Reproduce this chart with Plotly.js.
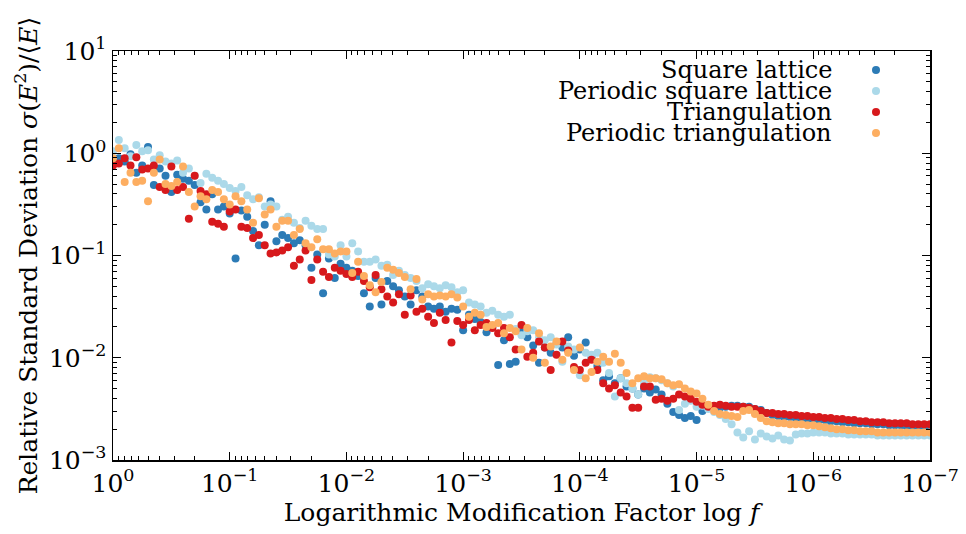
<!DOCTYPE html>
<html>
<head>
<meta charset="utf-8">
<script src="https://cdn.plot.ly/plotly-3.0.1.min.js"></script>
<style>html,body{margin:0;padding:0;background:#fff;}#chart{width:966px;height:534px;}</style>
</head>
<body>
<div id="chart"></div>
<script>
// log10 of the modification factor log f (x values)
const log10F = [
 0,-0.05,-0.1,-0.15,-0.2,-0.25,-0.3,-0.35,-0.4,-0.45,
 -0.5,-0.55,-0.6,-0.65,-0.7,-0.75,-0.8,-0.85,-0.9,-0.95,
 -1,-1.05,-1.1,-1.15,-1.2,-1.25,-1.3,-1.35,-1.4,-1.45,
 -1.5,-1.55,-1.6,-1.65,-1.7,-1.75,-1.8,-1.85,-1.9,-1.95,
 -2,-2.05,-2.1,-2.15,-2.2,-2.25,-2.3,-2.35,-2.4,-2.45,
 -2.5,-2.55,-2.6,-2.65,-2.7,-2.75,-2.8,-2.85,-2.9,-2.95,
 -3,-3.05,-3.1,-3.15,-3.2,-3.25,-3.3,-3.35,-3.4,-3.45,
 -3.5,-3.55,-3.6,-3.65,-3.7,-3.75,-3.8,-3.85,-3.9,-3.95,
 -4,-4.05,-4.1,-4.15,-4.2,-4.25,-4.3,-4.35,-4.4,-4.45,
 -4.5,-4.55,-4.6,-4.65,-4.7,-4.75,-4.8,-4.85,-4.9,-4.95,
 -5,-5.05,-5.1,-5.15,-5.2,-5.25,-5.3,-5.35,-5.4,-5.45,
 -5.5,-5.55,-5.6,-5.65,-5.7,-5.75,-5.8,-5.85,-5.9,-5.95,
 -6,-6.05,-6.1,-6.15,-6.2,-6.25,-6.3,-6.35,-6.4,-6.45,
 -6.5,-6.55,-6.6,-6.65,-6.7,-6.75,-6.8,-6.85,-6.9,-6.95,
 -7
];

// log10 of the relative standard deviation, one array per series
const log10SquareLattice = [
 -0.10,-0.05,-0.08,-0.01,-0.19,-0.12,0.06,-0.31,-0.15,-0.22,
 -0.38,-0.21,-0.25,-0.27,-0.31,-0.48,-0.55,-0.40,-0.55,-0.52,
 -0.59,-1.03,-0.56,-0.62,-0.76,-0.90,-0.70,-0.47,-0.86,-0.80,
 -0.83,-0.88,-0.85,-0.90,-1.12,-0.99,-1.37,-1.03,-1.22,-1.08,
 -1.12,-1.15,-1.20,-1.37,-1.50,-1.22,-1.48,-1.25,-1.30,-1.34,
 -1.40,-1.48,-1.34,-1.40,-1.50,-1.52,-1.50,-1.55,-1.52,-1.53,
 -1.73,-1.58,-1.62,-1.65,-1.75,-1.70,-2.07,-1.83,-2.06,-2.04,
 -1.75,-1.80,-1.88,-2.05,-1.90,-1.95,-1.86,-1.90,-1.80,-1.98,
 -1.92,-1.85,-2.00,-2.08,-2.22,-2.18,-2.25,-2.20,-2.28,-2.30,
 -2.36,-2.30,-2.34,-2.31,-2.36,-2.45,-2.53,-2.56,-2.59,-2.57,
 -2.61,-2.52,-2.48,-2.49,-2.49,-2.48,-2.47,-2.47,-2.48,-2.48,
 -2.50,-2.51,-2.54,-2.56,-2.57,-2.58,-2.58,-2.59,-2.59,-2.60,
 -2.60,-2.61,-2.61,-2.62,-2.62,-2.63,-2.63,-2.64,-2.64,-2.64,
 -2.65,-2.65,-2.65,-2.66,-2.66,-2.66,-2.67,-2.67,-2.67,-2.67,
 -2.68
];
const log10PeriodicSquare = [
 0.02,0.13,0.05,-0.03,0.08,0.02,0.03,-0.06,-0.02,-0.08,
 -0.10,-0.07,-0.19,-0.15,-0.22,-0.29,-0.20,-0.24,-0.27,-0.30,
 -0.34,-0.37,-0.33,-0.41,-0.45,-0.43,-0.52,-0.50,-0.52,-0.65,
 -0.62,-0.68,-0.73,-0.66,-0.71,-0.74,-0.74,-0.99,-1.01,-0.90,
 -1.01,-0.88,-0.96,-1.06,-1.06,-1.04,-1.10,-1.09,-1.19,-1.15,
 -1.19,-1.22,-1.25,-1.32,-1.28,-1.30,-1.32,-1.29,-1.31,-1.36,
 -1.34,-1.46,-1.48,-1.50,-1.56,-1.54,-1.58,-1.60,-1.58,-1.72,
 -1.78,-1.74,-1.73,-1.80,-1.83,-1.80,-1.87,-2.04,-1.89,-1.92,
 -2.17,-1.95,-1.97,-1.95,-2.05,-2.15,-2.38,-2.20,-2.25,-2.30,
 -2.36,-2.25,-2.19,-2.20,-2.22,-2.25,-2.28,-2.51,-2.45,-2.42,
 -2.48,-2.47,-2.50,-2.53,-2.56,-2.60,-2.65,-2.73,-2.78,-2.72,
 -2.80,-2.74,-2.77,-2.79,-2.76,-2.80,-2.81,-2.75,-2.74,-2.74,
 -2.73,-2.73,-2.73,-2.74,-2.74,-2.74,-2.75,-2.75,-2.75,-2.75,
 -2.75,-2.76,-2.76,-2.76,-2.76,-2.76,-2.76,-2.76,-2.76,-2.76,
 -2.76
];
const log10Triangulation = [
 -0.12,-0.10,-0.05,-0.12,-0.04,-0.16,-0.15,-0.12,-0.33,-0.36,
 -0.13,-0.36,-0.33,-0.64,-0.22,-0.37,-0.40,-0.67,-0.69,-0.72,
 -0.57,-0.55,-0.72,-0.73,-0.83,-0.80,-0.90,-0.98,-0.97,-0.95,
 -0.92,-1.10,-1.04,-0.95,-1.24,-1.04,-1.16,-1.21,-1.12,-1.15,
 -1.18,-1.21,-1.16,-1.25,-1.31,-1.19,-1.33,-1.40,-1.46,-1.38,
 -1.58,-1.39,-1.55,-1.52,-1.60,-1.66,-1.56,-1.63,-1.85,-1.64,
 -1.68,-1.63,-1.73,-1.68,-1.66,-1.71,-1.76,-1.71,-1.80,-1.92,
 -1.68,-1.99,-1.95,-1.84,-1.90,-2.12,-1.97,-1.84,-1.93,-2.09,
 -2.12,-2.05,-2.02,-2.12,-2.25,-2.30,-2.27,-2.34,-2.38,-2.49,
 -2.49,-2.28,-2.28,-2.41,-2.40,-2.42,-2.40,-2.36,-2.38,-2.40,
 -2.43,-2.46,-2.48,-2.47,-2.46,-2.47,-2.48,-2.48,-2.48,-2.49,
 -2.50,-2.52,-2.54,-2.54,-2.55,-2.55,-2.56,-2.56,-2.57,-2.57,
 -2.58,-2.58,-2.59,-2.59,-2.60,-2.60,-2.61,-2.61,-2.62,-2.62,
 -2.63,-2.63,-2.63,-2.64,-2.64,-2.64,-2.64,-2.65,-2.65,-2.65,
 -2.65
];
const log10PeriodicTriangulation = [
 -0.05,0.05,-0.28,-0.19,-0.28,-0.27,-0.47,-0.19,-0.06,-0.30,
 -0.32,-0.28,-0.13,-0.38,-0.52,-0.42,-0.45,-0.36,-0.38,-0.45,
 -0.50,-0.42,-0.47,-0.55,-0.68,-0.44,-0.60,-0.55,-0.72,-0.66,
 -0.66,-0.80,-0.74,-0.88,-0.92,-0.84,-0.94,-0.94,-0.98,-0.96,
 -0.96,-1.17,-1.06,-1.20,-1.29,-1.36,-1.26,-1.12,-1.14,-1.17,
 -1.21,-1.33,-1.23,-1.43,-1.38,-1.40,-1.39,-1.40,-1.38,-1.41,
 -1.50,-1.60,-1.56,-1.58,-1.70,-1.68,-1.66,-1.76,-1.71,-1.74,
 -1.92,-1.71,-2.00,-1.76,-2.05,-1.89,-1.84,-2.02,-1.95,-2.12,
 -1.90,-2.20,-2.14,-2.04,-1.99,-2.04,-1.96,-2.05,-2.15,-2.25,
 -2.20,-2.18,-2.20,-2.20,-2.21,-2.25,-2.27,-2.26,-2.30,-2.33,
 -2.35,-2.40,-2.46,-2.52,-2.55,-2.56,-2.57,-2.58,-2.52,-2.51,
 -2.55,-2.59,-2.62,-2.63,-2.64,-2.64,-2.65,-2.65,-2.65,-2.66,
 -2.66,-2.67,-2.68,-2.69,-2.70,-2.70,-2.71,-2.71,-2.72,-2.72,
 -2.72,-2.73,-2.73,-2.73,-2.73,-2.73,-2.73,-2.73,-2.73,-2.73,
 -2.73
];

const seriesNames = ["Square lattice", "Periodic square lattice", "Triangulation", "Periodic triangulation"];
const seriesColors = ["#2c7bb6", "#abd9e9", "#d7191c", "#fdae61"];
const seriesLog10 = [log10SquareLattice, log10PeriodicSquare, log10Triangulation, log10PeriodicTriangulation];

const xTickVals = [1, 1e-1, 1e-2, 1e-3, 1e-4, 1e-5, 1e-6, 1e-7];
const xTickText = ["10<sup>0</sup>","10<sup>−1</sup>","10<sup>−2</sup>","10<sup>−3</sup>","10<sup>−4</sup>","10<sup>−5</sup>","10<sup>−6</sup>","10<sup>−7</sup>"];
const yTickVals = [1e-3, 1e-2, 1e-1, 1, 10];
const yTickText = ["10<sup>−3</sup>","10<sup>−2</sup>","10<sup>−1</sup>","10<sup>0</sup>","10<sup>1</sup>"];

const FONT = "'DejaVu Serif', 'Liberation Serif', serif";
const FS = 25;
const xVals = log10F.map(v => Math.pow(10, v));

const traces = seriesLog10.map((arr, i) => ({
  type: "scatter",
  mode: "markers",
  name: seriesNames[i],
  x: xVals,
  y: arr.map(v => Math.pow(10, v)),
  marker: {color: seriesColors[i], size: 8, line: {width: 0}},
  showlegend: false
}));

// legend drawn matplotlib-style: right-aligned label, marker on the right
const legY = [0.9535, 0.9022, 0.8509, 0.7995];
const annotations = seriesNames.map((n, i) => ({
  xref: "paper", yref: "paper", x: 0.8813, y: legY[i],
  xanchor: "right", yanchor: "middle", showarrow: false, borderpad: 0,
  text: n, font: {family: FONT, size: 24, color: "#000"}
}));
const shapes = seriesColors.map((c, i) => ({
  type: "circle", xref: "paper", yref: "paper",
  xsizemode: "pixel", ysizemode: "pixel",
  xanchor: 0.9339, yanchor: legY[i],
  x0: -4, x1: 4, y0: -4, y1: 4,
  fillcolor: c, line: {width: 0}
}));

const axisCommon = {
  type: "log",
  showgrid: false, zeroline: false,
  showline: true, linecolor: "#000", linewidth: 1.5, mirror: "allticks",
  ticks: "inside", ticklen: 8, tickwidth: 1.2, tickcolor: "#000",
  tickfont: {family: FONT, size: FS, color: "#000"},
  tickmode: "array",
  minor: {ticks: "inside", ticklen: 4, tickwidth: 1, tickcolor: "#000", dtick: "D1", showgrid: false}
};

const layout = {
  width: 966, height: 534,
  margin: {l: 113, r: 36, t: 51, b: 74},
  paper_bgcolor: "#fff", plot_bgcolor: "#fff",
  font: {family: FONT, size: FS, color: "#000"},
  xaxis: Object.assign({}, axisCommon, {
    range: [0, -7], tickvals: xTickVals, ticktext: xTickText,
    title: {text: "Logarithmic Modification Factor log <i>f</i>", font: {family: FONT, size: FS, color: "#000"}, standoff: 4}
  }),
  yaxis: Object.assign({}, axisCommon, {
    range: [-3, 1], tickvals: yTickVals, ticktext: yTickText,
    title: {text: "Relative Standard Deviation <i>σ</i>(<i>E</i><sup>2</sup>)/⟨<i>E</i>⟩", font: {family: FONT, size: FS, color: "#000"}, standoff: 4}
  }),
  annotations: annotations,
  shapes: shapes
};

Plotly.newPlot("chart", traces, layout, {staticPlot: true, displayModeBar: false});
</script>
</body>
</html>
